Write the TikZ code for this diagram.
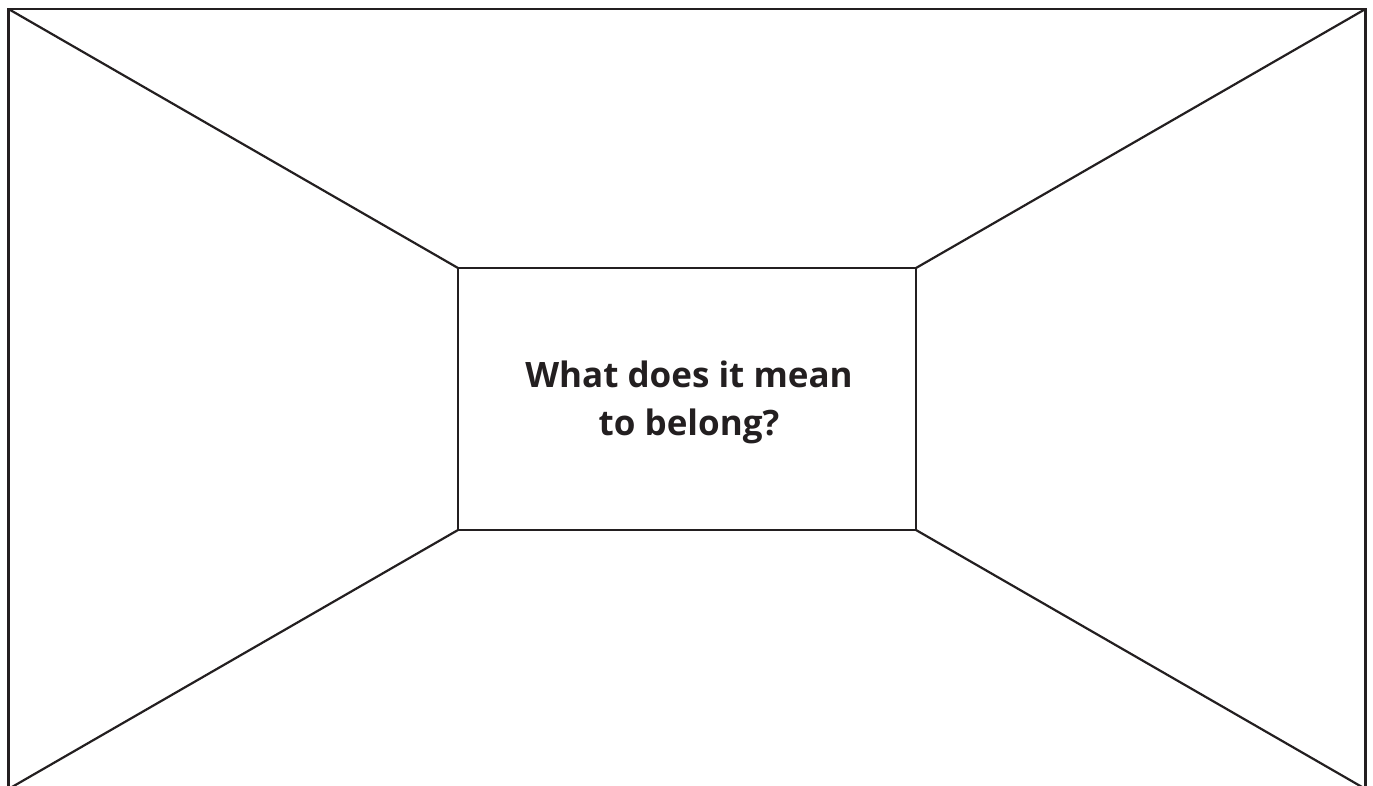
\documentclass[tikz,border=0pt]{standalone}
\usepackage{fontspec}
\setmainfont{Open Sans}
\definecolor{ink}{HTML}{231F20}
\begin{document}
\begin{tikzpicture}[x=1pt,y=-1pt,
  edge/.style={draw=ink,line width=2.2pt,line cap=butt,line join=miter},
  label/.style={text=ink,font=\fontsize{35}{48}\selectfont\bfseries,align=center}]
\useasboundingbox (0,0) rectangle (1373,785);
\clip (0,0) rectangle (1373,785);
\coordinate (o1) at (8.5,9);
\coordinate (o2) at (1365.5,9);
\coordinate (o3) at (1365.5,789);
\coordinate (o4) at (8.5,789);
\coordinate (i1) at (458,268);
\coordinate (i2) at (916,268);
\coordinate (i3) at (916,530);
\coordinate (i4) at (458,530);
\draw[edge] (o1) -- (o2) -- (o3) -- (o4) -- cycle;
\draw[edge] (i1) -- (i2) -- (i3) -- (i4) -- cycle;
\draw[edge] (o1) -- (i1);
\draw[edge] (o2) -- (i2);
\draw[edge] (o3) -- (i3);
\draw[edge] (o4) -- (i4);
\node[label] (q) at (689,402) {What does it mean\\to belong?};
\end{tikzpicture}
\end{document}
